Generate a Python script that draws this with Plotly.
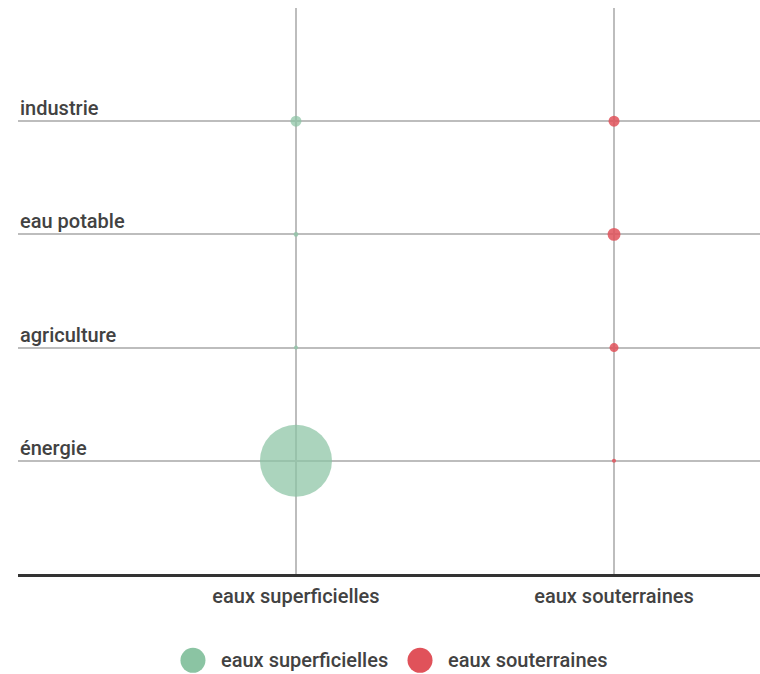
import plotly.graph_objects as go

# water sources (x) and uses (y)
sources = ["eaux superficielles", "eaux souterraines"]
usages = ["énergie", "agriculture", "eau potable", "industrie"]

# share of withdrawals per use
superficielles = [90.4, 0.3, 0.4, 2.1]
souterraines = [0.3, 1.4, 2.9, 2.1]

colors = ["#8bc4a3", "#e0525a"]
opacities = [0.72, 0.85]
font = "Roboto, 'Noto Sans', sans-serif"
textColor = "#424242"
fontSize = 20

maxVal = max(superficielles + souterraines)
sizeref = 2 * maxVal / (72 ** 2)

fig = go.Figure()
for src, vals, col, op in zip(sources, [superficielles, souterraines], colors, opacities):
    fig.add_trace(go.Scatter(
        x=[src] * len(usages),
        y=usages,
        mode="markers",
        name=src,
        marker=dict(size=vals, sizemode="area", sizeref=sizeref,
                    color=col, opacity=op, line=dict(width=0)),
        showlegend=False,
        hovertemplate="%{y}: %{marker.size}<extra>" + src + "</extra>",
    ))

# y category labels sit above their grid lines, at the left edge
annotations = []
for u in usages:
    annotations.append(dict(
        x=0, xref="paper", xanchor="left",
        y=u, yref="y", yanchor="bottom", yshift=-1,
        text=u, showarrow=False,
        font=dict(family=font, size=fontSize, color=textColor, weight=500),
    ))

# hand-made legend with big round swatches
shapes = []
legendX = [0.2358, 0.5418]
for src, col, lx in zip(sources, colors, legendX):
    shapes.append(dict(
        type="circle", xref="paper", yref="paper",
        xsizemode="pixel", ysizemode="pixel",
        xanchor=lx, yanchor=-0.1526,
        x0=-12.5, x1=12.5, y0=-12.5, y1=12.5,
        fillcolor=col, line=dict(width=0),
    ))
    annotations.append(dict(
        x=lx, xref="paper", xanchor="left", xshift=26,
        y=-0.1526, yref="paper", yanchor="middle",
        text=src, showarrow=False,
        font=dict(family=font, size=fontSize, color=textColor, weight=500),
    ))

fig.update_layout(
    width=760, height=674,
    margin=dict(l=18, r=0, t=7.5, b=99.5),
    paper_bgcolor="white", plot_bgcolor="white",
    font=dict(family=font, size=fontSize, color=textColor),
    annotations=annotations,
    shapes=shapes,
    xaxis=dict(
        type="category", categoryorder="array", categoryarray=sources,
        range=[-0.874, 1.459],
        showgrid=True, gridcolor="#bdbdbd", gridwidth=1.5,
        zeroline=False, showline=True, linecolor="#333333", linewidth=3,
        ticks="", ticklabelstandoff=2,
        tickfont=dict(family=font, size=fontSize, color=textColor, weight=500),
        fixedrange=True,
    ),
    yaxis=dict(
        type="category", categoryorder="array", categoryarray=usages,
        range=[-1, 4],
        showgrid=True, gridcolor="#bdbdbd", gridwidth=1.5,
        zeroline=False, showline=False, showticklabels=False, ticks="",
        fixedrange=True,
    ),
)

# drop the browser's default 8px body margin so the chart fills the window
fig.write_html("out.html", config={"displayModeBar": False},
               post_script="document.body.style.margin='0';document.body.style.overflow='hidden';")
